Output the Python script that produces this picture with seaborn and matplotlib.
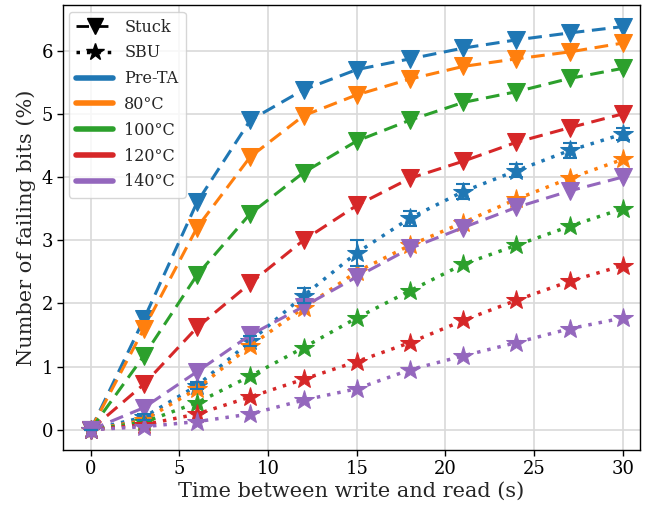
import numpy as np
import pandas as pd
import seaborn as sns
import matplotlib
matplotlib.use("Agg")
import matplotlib.pyplot as plt
from matplotlib.lines import Line2D

time_s = [0, 3, 6, 9, 12, 15, 18, 21, 24, 27, 30]
conditions = ["Pre-TA", "80°C", "100°C", "120°C", "140°C"]

stuck_pre = [0, 1.75, 3.6, 4.9, 5.38, 5.7, 5.87, 6.04, 6.17, 6.28, 6.38]
stuck_80 = [0, 1.6, 3.2, 4.32, 4.97, 5.3, 5.55, 5.75, 5.87, 5.98, 6.12]
stuck_100 = [0, 1.17, 2.45, 3.42, 4.07, 4.57, 4.9, 5.18, 5.35, 5.56, 5.72]
stuck_120 = [0, 0.72, 1.62, 2.32, 3.0, 3.55, 3.98, 4.25, 4.55, 4.78, 5.0]
stuck_140 = [0, 0.35, 0.92, 1.5, 1.95, 2.42, 2.87, 3.2, 3.52, 3.78, 4.0]

sbu_pre = [0, 0.2, 0.7, 1.4, 2.12, 2.8, 3.35, 3.77, 4.1, 4.42, 4.68]
sbu_80 = [0, 0.15, 0.65, 1.33, 1.93, 2.5, 2.92, 3.28, 3.65, 3.98, 4.28]
sbu_100 = [0, 0.12, 0.43, 0.85, 1.3, 1.77, 2.2, 2.62, 2.92, 3.22, 3.5]
sbu_120 = [0, 0.08, 0.25, 0.52, 0.8, 1.08, 1.38, 1.73, 2.05, 2.35, 2.6]
sbu_140 = [0, 0.05, 0.13, 0.25, 0.47, 0.65, 0.95, 1.17, 1.38, 1.6, 1.77]

sbu_pre_err = [0, 0.05, 0.06, 0.08, 0.12, 0.2, 0.12, 0.12, 0.1, 0.12, 0.1]

stuck_all = [stuck_pre, stuck_80, stuck_100, stuck_120, stuck_140]
sbu_all = [sbu_pre, sbu_80, sbu_100, sbu_120, sbu_140]

rows = []
for cond, s, b in zip(conditions, stuck_all, sbu_all):
    for t, v in zip(time_s, s):
        rows.append((t, v, cond, "Stuck"))
    for t, v in zip(time_s, b):
        rows.append((t, v, cond, "SBU"))
df = pd.DataFrame(rows, columns=["time", "value", "cond", "kind"])

sns.set_style("white")
plt.rcParams["font.family"] = ["DejaVu Serif"]
plt.rcParams["font.size"] = 13

palette = sns.color_palette("tab10", 5)
fig, ax = plt.subplots(figsize=(6.47, 5.12), dpi=100)

dash = (0, (4.5, 2.5))
dot = (0, (1, 2))
for i, cond in enumerate(conditions):
    c = palette[i]
    d = df[(df.cond == cond) & (df.kind == "Stuck")]
    sns.lineplot(data=d, x="time", y="value", ax=ax, color=c, lw=2.2,
                 linestyle=dash, marker="v", markersize=13,
                 markeredgecolor=c, legend=False, zorder=3)
    d = df[(df.cond == cond) & (df.kind == "SBU")]
    sns.lineplot(data=d, x="time", y="value", ax=ax, color=c, lw=2.5,
                 linestyle=dot, marker="*", markersize=15,
                 markeredgecolor=c, legend=False, zorder=3)

ax.errorbar(time_s, sbu_pre, yerr=sbu_pre_err, fmt="none", ecolor=palette[0],
            elinewidth=1.5, capsize=5, capthick=1.5, zorder=4)

ax.grid(True, color="#d9d9d9", lw=1.2)
for sp in ax.spines.values():
    sp.set_color("black")
    sp.set_linewidth(1.0)
ax.tick_params(axis="both", which="both", direction="out", length=4, width=1,
               colors="black", labelsize=13, bottom=True, left=True, pad=3)
ax.set_xticks([0, 5, 10, 15, 20, 25, 30])
ax.set_yticks([0, 1, 2, 3, 4, 5, 6])
ax.set_xlim(-1.57, 30.96)
ax.set_ylim(-0.32, 6.72)
ax.set_xlabel("Time between write and read (s)", fontsize=15, labelpad=3)
ax.set_ylabel("Number of failing bits (%)", fontsize=15, labelpad=4)

handles = [
    Line2D([], [], color="black", lw=2, linestyle=dash, marker="v", markersize=11),
    Line2D([], [], color="black", lw=2.5, linestyle=dot, marker="*", markersize=13),
]
labels = ["Stuck", "SBU"]
for i, cond in enumerate(conditions):
    handles.append(Line2D([], [], color=palette[i], lw=4))
    labels.append(cond)
ax.legend(handles, labels, loc="upper left", fontsize=11.5, framealpha=0.8,
          handlelength=2.3, borderpad=0.45, labelspacing=0.55, handletextpad=0.7,
          borderaxespad=0.4)

fig.subplots_adjust(left=0.097, right=0.989, top=0.990, bottom=0.121)
fig.savefig("out.png", dpi=100)
